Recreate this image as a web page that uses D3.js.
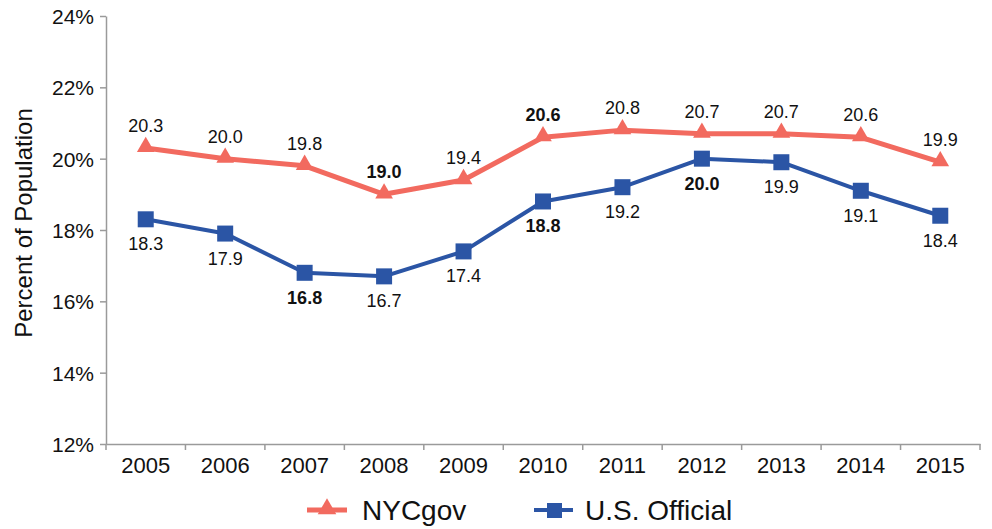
<!DOCTYPE html>
<html><head><meta charset="utf-8">
<script src="https://cdn.jsdelivr.net/npm/d3@7"></script>
<style>body{margin:0;background:#fff}svg{display:block;font-family:"Liberation Sans",Arial,sans-serif}</style>
</head><body><svg id="c" width="992" height="529"></svg>
<script>
const years = ["2005","2006","2007","2008","2009","2010","2011","2012","2013","2014","2015"];
const nycgov = [20.3,20.0,19.8,19.0,19.4,20.6,20.8,20.7,20.7,20.6,19.9];
const usOfficial = [18.3,17.9,16.8,16.7,17.4,18.8,19.2,20.0,19.9,19.1,18.4];
const nycBold = [false,false,false,true,false,true,false,false,false,false,false];
const usBold = [false,false,true,false,false,true,false,true,false,false,false];
const yTicks = [12,14,16,18,20,22,24];
const seriesNames = ["NYCgov","U.S. Official"];

(function(){
const svg = d3.select("#c");
const mLeft=106, mRight=980, mTop=16, mBottom=444;
const x = d3.scaleBand().domain(years).range([mLeft,mRight]);
const y = d3.scaleLinear().domain([12,24]).range([mBottom,mTop]);
const cx = d => x(d)+x.bandwidth()/2;
const axisColor="#9a9a9a";
const ff="Liberation Sans, Arial, sans-serif";

const ya = svg.append("g").attr("transform",`translate(${mLeft},0)`)
  .call(d3.axisLeft(y).tickValues(yTicks).tickFormat(d=>d+"%").tickSize(6).tickSizeOuter(0));
ya.select(".domain").attr("stroke",axisColor).attr("stroke-width",1.5);
ya.selectAll(".tick line").attr("stroke",axisColor).attr("stroke-width",1.5);
ya.selectAll(".tick text").attr("font-size",21).attr("fill","#111").attr("x",-12).attr("dy","0.35em").attr("font-family",ff);

const xa = svg.append("g").attr("transform",`translate(0,${mBottom})`)
  .call(d3.axisBottom(x).tickSize(0).tickSizeOuter(0));
xa.select(".domain").attr("stroke",axisColor).attr("stroke-width",1.5);
xa.selectAll(".tick text").attr("font-size",22).attr("fill","#111").attr("y",29).attr("dy",0).attr("font-family",ff);
const bounds = years.map(d=>x(d)).concat([mRight]);
svg.append("g").selectAll("line").data(bounds).join("line")
  .attr("x1",d=>d).attr("x2",d=>d).attr("y1",mBottom).attr("y2",mBottom+6)
  .attr("stroke",axisColor).attr("stroke-width",1.5);

svg.append("text").attr("transform","translate(32,223) rotate(-90)")
  .attr("text-anchor","middle").attr("font-size",24).attr("fill","#111").text("Percent of Population");

const red="#f26a5f", blue="#2b55a5";
const line = d3.line().x((d,i)=>cx(years[i])).y(d=>y(d));

svg.append("path").datum(nycgov).attr("d",line).attr("fill","none").attr("stroke",red).attr("stroke-width",5).attr("stroke-linejoin","round");
svg.append("path").datum(usOfficial).attr("d",line).attr("fill","none").attr("stroke",blue).attr("stroke-width",4).attr("stroke-linejoin","round");

const tri = d3.symbol().type(d3.symbolTriangle).size(135);
svg.append("g").selectAll("path").data(nycgov).join("path")
  .attr("d",tri).attr("fill",red)
  .attr("transform",(d,i)=>`translate(${cx(years[i])},${y(d)-1})`);
svg.append("g").selectAll("rect").data(usOfficial).join("rect")
  .attr("x",(d,i)=>cx(years[i])-8).attr("y",d=>y(d)-8).attr("width",16).attr("height",16).attr("fill",blue);

svg.append("g").selectAll("text").data(nycgov).join("text")
  .attr("x",(d,i)=>cx(years[i])).attr("y",d=>y(d)-16)
  .attr("text-anchor","middle").attr("font-size",18).attr("fill","#111")
  .attr("font-weight",(d,i)=>nycBold[i]?"bold":"normal").text(d=>d.toFixed(1));
svg.append("g").selectAll("text").data(usOfficial).join("text")
  .attr("x",(d,i)=>cx(years[i])).attr("y",d=>y(d)+31)
  .attr("text-anchor","middle").attr("font-size",18).attr("fill","#111")
  .attr("font-weight",(d,i)=>usBold[i]?"bold":"normal").text(d=>d.toFixed(1));

const lg = svg.append("g");
lg.append("line").attr("x1",307).attr("x2",347).attr("y1",510).attr("y2",510).attr("stroke",red).attr("stroke-width",5);
lg.append("path").attr("d",d3.symbol().type(d3.symbolTriangle).size(150)).attr("fill",red).attr("transform","translate(327,509)");
lg.append("text").attr("x",362).attr("y",520).attr("font-size",28).attr("fill","#111").text(seriesNames[0]);
lg.append("line").attr("x1",534).attr("x2",573).attr("y1",510).attr("y2",510).attr("stroke",blue).attr("stroke-width",4);
lg.append("rect").attr("x",547).attr("y",503).attr("width",15).attr("height",15).attr("fill",blue);
lg.append("text").attr("x",585).attr("y",520).attr("font-size",28).attr("fill","#111").text(seriesNames[1]);
})();
</script></body></html>
